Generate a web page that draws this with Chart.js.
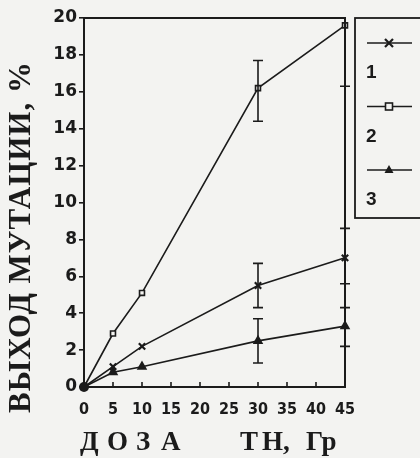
<!DOCTYPE html>
<html>
<head>
<meta charset="utf-8">
<script src="https://cdn.jsdelivr.net/npm/chart.js@4"></script>
<style>
  html, body { margin: 0; padding: 0; background: #f3f3f1; }
  #wrap { width: 420px; height: 458px; }
</style>
</head>
<body>
<div id="wrap"><canvas id="mutChart" width="420" height="458"></canvas></div>
<script>
// dose, Gy
const doses = [0, 5, 10, 30, 45];
// mutation yield, %
const series1 = [0, 1.1, 2.2, 5.5, 7.0];
const series2 = [0, 2.9, 5.1, 16.2, 19.6];
const series3 = [0, 0.8, 1.1, 2.5, 3.3];
// error bars [low, high], null where none
const err1 = [null, null, null, [4.3, 6.7], [5.6, 8.6]];
const err2 = [null, null, null, [14.4, 17.7], [16.3, 20]];
const err3 = [null, null, null, [1.3, 3.7], [2.2, 4.3]];
const legendLabels = ['1', '2', '3'];
const xTicks = [0, 5, 10, 15, 20, 25, 30, 35, 40, 45];
const yTicks = [0, 2, 4, 6, 8, 10, 12, 14, 16, 18, 20];
const yTitle = 'ВЫХОД МУТАЦИИ, %';
const xTitle = [['Д', 80], ['О', 107], ['З', 136], ['А', 161], ['Т', 240], ['Н,', 262], ['Гр', 306]];

const ink = '#1b1b1b';
const paper = '#f3f3f1';
const serif = '"Liberation Serif", "DejaVu Serif", serif';

function pts(vals) {
    return doses.map((d, i) => ({ x: d, y: vals[i] }));
}

function mark(ctx, style, x, y) {
    ctx.save();
    ctx.fillStyle = ink;
    ctx.strokeStyle = ink;
    ctx.lineWidth = 1.6;
    if (style === 'crossRot') {
        ctx.lineWidth = 2.2;
        ctx.beginPath();
        ctx.moveTo(x - 4, y - 4); ctx.lineTo(x + 4, y + 4);
        ctx.moveTo(x + 4, y - 4); ctx.lineTo(x - 4, y + 4);
        ctx.stroke();
    } else if (style === 'rect') {
        ctx.fillStyle = paper;
        ctx.fillRect(x - 3.5, y - 3.5, 7, 7);
        ctx.strokeRect(x - 3.5, y - 3.5, 7, 7);
    } else {
        ctx.beginPath();
        ctx.moveTo(x, y - 5); ctx.lineTo(x + 4.5, y + 3); ctx.lineTo(x - 4.5, y + 3);
        ctx.closePath();
        ctx.fill();
    }
    ctx.restore();
}

const styles = ['crossRot', 'rect', 'triangle'];
const errs = [err1, err2, err3];

const paperPlugin = {
    id: 'paper',
    beforeDraw(chart) {
        const ctx = chart.ctx;
        ctx.save();
        ctx.fillStyle = paper;
        ctx.fillRect(0, 0, chart.width, chart.height);
        ctx.restore();
    },
    afterDatasetsDraw(chart) {
        const ctx = chart.ctx;
        const xs = chart.scales.x, ys = chart.scales.y;
        const a = chart.chartArea;
        ctx.save();
        // frame
        ctx.strokeStyle = ink;
        ctx.lineWidth = 2;
        ctx.strokeRect(a.left, a.top, a.right - a.left, a.bottom - a.top);
        // x ticks point inward
        ctx.lineWidth = 1.6;
        ctx.beginPath();
        xTicks.forEach(v => {
            const px = xs.getPixelForValue(v);
            ctx.moveTo(px, a.bottom); ctx.lineTo(px, a.bottom - 5);
        });
        ctx.stroke();
        // error bars
        errs.forEach(e => {
            e.forEach((r, i) => {
                if (!r) return;
                const px = xs.getPixelForValue(doses[i]);
                const lo = ys.getPixelForValue(r[0]);
                const hi = ys.getPixelForValue(Math.min(r[1], 20));
                ctx.beginPath();
                ctx.moveTo(px, lo); ctx.lineTo(px, hi);
                ctx.moveTo(px - 5, lo); ctx.lineTo(px + 5, lo);
                if (r[1] < 20) { ctx.moveTo(px - 5, hi); ctx.lineTo(px + 5, hi); }
                ctx.stroke();
            });
        });
        // origin blob
        ctx.fillStyle = ink;
        ctx.beginPath();
        ctx.arc(xs.getPixelForValue(0), ys.getPixelForValue(0), 5, 0, Math.PI * 2);
        ctx.fill();
        // legend box
        ctx.lineWidth = 1.8;
        ctx.strokeRect(355, 18, 80, 200);
        ctx.font = 'bold 19px "Liberation Sans", Arial, sans-serif';
        ctx.textBaseline = 'middle';
        legendLabels.forEach((lab, i) => {
            const ly = 43 + i * 63.5;
            ctx.lineWidth = 1.6;
            ctx.beginPath();
            ctx.moveTo(367, ly); ctx.lineTo(412, ly);
            ctx.stroke();
            mark(ctx, styles[i], 389, ly);
            ctx.fillText(lab, 366, ly + 30);
        });
        // axis titles
        ctx.font = 'bold 27px ' + serif;
        ctx.textBaseline = 'alphabetic';
        xTitle.forEach(([t, x]) => ctx.fillText(t, x, 450));
        ctx.save();
        ctx.translate(30, 237);
        ctx.rotate(-Math.PI / 2);
        ctx.font = 'bold 31px ' + serif;
        ctx.textAlign = 'center';
        ctx.letterSpacing = '1px';
        ctx.fillText(yTitle, 0, 0);
        ctx.restore();
        ctx.restore();
    }
};

const ctx = document.getElementById('mutChart').getContext('2d');
new Chart(ctx, {
    type: 'line',
    data: {
        datasets: [series1, series2, series3].map((s, i) => ({
            label: legendLabels[i],
            data: pts(s),
            borderColor: ink,
            borderWidth: 1.6,
            clip: false,
            pointStyle: styles[i],
            pointRadius: doses.map(d => d === 0 ? 0 : (i === 1 ? 3.5 : 4.5)),
            pointBorderWidth: i === 0 ? 2.2 : 1.6,
            pointBackgroundColor: i === 1 ? paper : ink,
            pointBorderColor: ink,
            tension: 0,
            fill: false
        }))
    },
    options: {
        responsive: false,
        animation: false,
        layout: { padding: { top: 18, right: 75, left: 0, bottom: 0 } },
        plugins: { legend: { display: false }, tooltip: { enabled: false } },
        scales: {
            x: {
                type: 'linear',
                min: 0, max: 45,
                afterBuildTicks: s => { s.ticks = xTicks.map(v => ({ value: v })); },
                afterFit: s => { s.height = 71; },
                grid: { display: false },
                border: { display: false },
                ticks: {
                    color: ink,
                    padding: 5,
                    maxRotation: 0,
                    autoSkip: false,
                    font: { family: '"DejaVu Sans Condensed", "Liberation Sans Narrow", sans-serif', weight: 'bold', size: 16 }
                }
            },
            y: {
                min: 0, max: 20,
                afterBuildTicks: s => { s.ticks = yTicks.map(v => ({ value: v })); },
                afterFit: s => { s.width = 84; },
                grid: { drawOnChartArea: false, color: ink, tickLength: 5, lineWidth: 1.6 },
                border: { display: false },
                ticks: {
                    color: ink,
                    padding: 2,
                    font: { family: '"DejaVu Sans", "Liberation Sans", sans-serif', weight: 'bold', size: 17 }
                }
            }
        }
    },
    plugins: [paperPlugin]
});
</script>
</body>
</html>
